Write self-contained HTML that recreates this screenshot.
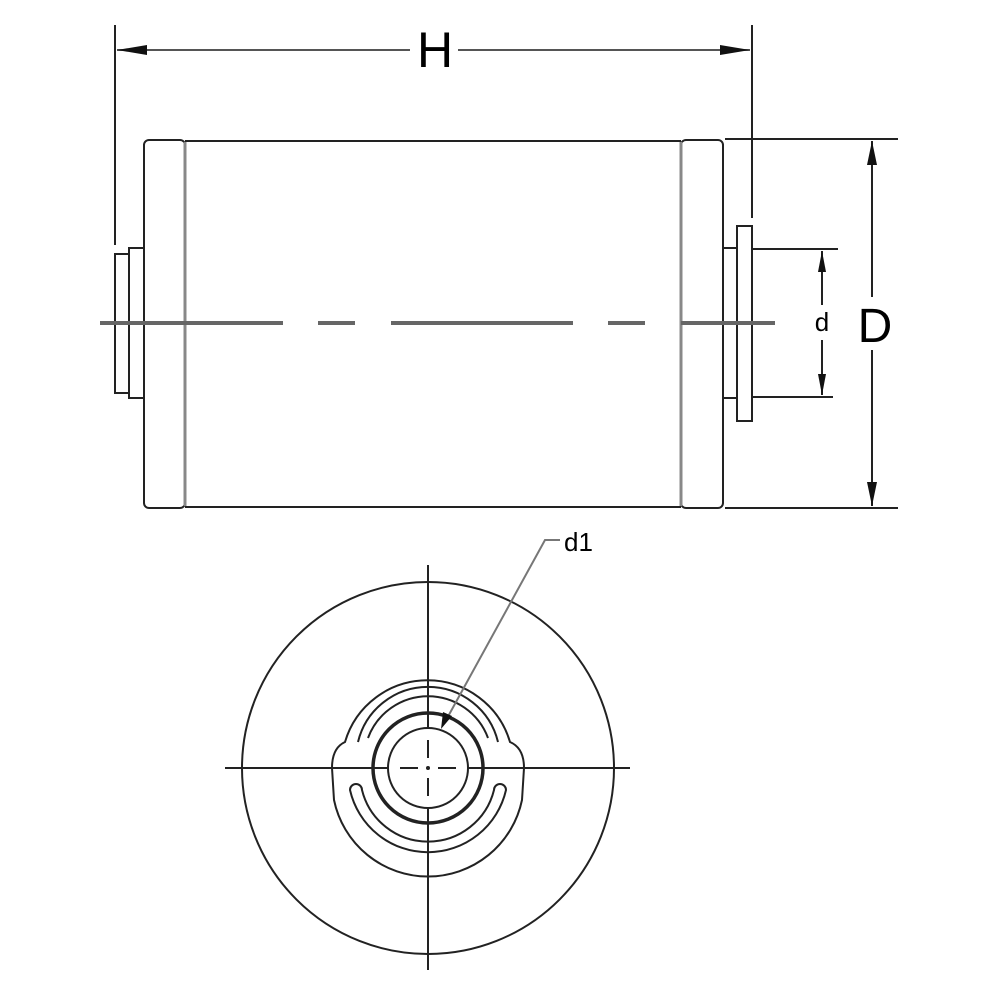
<!DOCTYPE html>
<html><head><style>html,body{margin:0;padding:0;background:#fff}svg{display:block}</style></head>
<body>
<svg width="1000" height="1000" viewBox="0 0 1000 1000" xmlns="http://www.w3.org/2000/svg" font-family="Liberation Sans, sans-serif">
<g fill="none" stroke="#222" stroke-width="2">
  <line x1="185" y1="141" x2="681" y2="141"/>
  <line x1="185" y1="507" x2="681" y2="507"/>
  <rect x="144" y="140" width="41" height="368" rx="5"/>
  <rect x="681" y="140" width="42" height="368" rx="5"/>
  <line x1="185" y1="142" x2="185" y2="506" stroke="#888" stroke-width="3"/>
  <line x1="681" y1="142" x2="681" y2="506" stroke="#888" stroke-width="3"/>
  <rect x="129" y="248" width="15" height="150"/>
  <rect x="115" y="254" width="14" height="139"/>
  <line x1="115" y1="25" x2="115" y2="245"/>
  <rect x="737" y="226" width="15" height="195"/>
  <line x1="723" y1="248" x2="737" y2="248"/>
  <line x1="723" y1="398" x2="737" y2="398"/>
  <line x1="752" y1="25" x2="752" y2="218"/>
  <line x1="117" y1="50" x2="410" y2="50" stroke="#555"/>
  <line x1="458" y1="50" x2="750" y2="50" stroke="#555"/>
  <line x1="725" y1="139" x2="898" y2="139"/>
  <line x1="725" y1="508" x2="898" y2="508"/>
  <line x1="872" y1="141" x2="872" y2="297"/>
  <line x1="872" y1="350" x2="872" y2="506"/>
  <line x1="753" y1="249" x2="838" y2="249"/>
  <line x1="753" y1="397" x2="833" y2="397"/>
  <line x1="822" y1="251" x2="822" y2="305"/>
  <line x1="822" y1="340" x2="822" y2="395"/>
  <g stroke="#666" stroke-width="4">
    <line x1="100" y1="323" x2="283" y2="323"/>
    <line x1="318" y1="323" x2="355" y2="323"/>
    <line x1="391" y1="323" x2="573" y2="323"/>
    <line x1="608" y1="323" x2="645" y2="323"/>
    <line x1="681" y1="323" x2="775" y2="323"/>
  </g>
</g>
<g fill="#111">
  <polygon points="117,50 147,45 147,55"/>
  <polygon points="750,50 720,45 720,55"/>
  <polygon points="872,141 867,165 877,165"/>
  <polygon points="872,506 867,482 877,482"/>
  <polygon points="822,251 818,272 826,272"/>
  <polygon points="822,395 818,374 826,374"/>
</g>
<text x="435" y="67" font-size="50" text-anchor="middle" fill="#000">H</text>
<text x="875" y="342" font-size="48" text-anchor="middle" fill="#000">D</text>
<text x="822" y="331" font-size="26" text-anchor="middle" fill="#000">d</text>
<g fill="none" stroke="#222" stroke-width="2">
  <circle cx="428" cy="768" r="186"/>
  <line x1="225" y1="768" x2="630" y2="768"/>
  <line x1="428" y1="565" x2="428" y2="970"/>
  <circle cx="428" cy="768" r="40" fill="#fff"/>
  <circle cx="428" cy="768" r="55" stroke-width="3.5"/>
  <path d="M345,742 A86,86 0 0 1 510,742 Q524,748 524,768 L522,800 A96,96 0 0 1 334,800 L332,768 Q332,748 345,742 Z"/>
  <path d="M358,742 A72,72 0 0 1 498,742 M368,738 A64,64 0 0 1 488,738"/>
  <path d="M350,790 A80,80 0 0 0 506,790 A6,6 0 0 0 494,790 A68,68 0 0 1 362,790 A6,6 0 0 0 350,790 Z"/>
</g>
<g stroke="#fff" stroke-width="3">
  <line x1="392" y1="768" x2="420" y2="768"/>
  <line x1="436" y1="768" x2="464" y2="768"/>
  <line x1="428" y1="732" x2="428" y2="760"/>
  <line x1="428" y1="776" x2="428" y2="804"/>
</g>
<g stroke="#222" stroke-width="2">
  <line x1="400" y1="768" x2="418" y2="768"/>
  <line x1="438" y1="768" x2="456" y2="768"/>
  <line x1="428" y1="740" x2="428" y2="758"/>
  <line x1="428" y1="778" x2="428" y2="796"/>
</g>
<circle cx="428" cy="768" r="2" fill="#222"/>
<polyline points="445,722 545,540 560,540" fill="none" stroke="#777" stroke-width="2"/>
<polygon points="441,729 443,712 452,716" fill="#111"/>
<text x="564" y="551" font-size="26" fill="#000">d1</text>
</svg>
</body></html>
